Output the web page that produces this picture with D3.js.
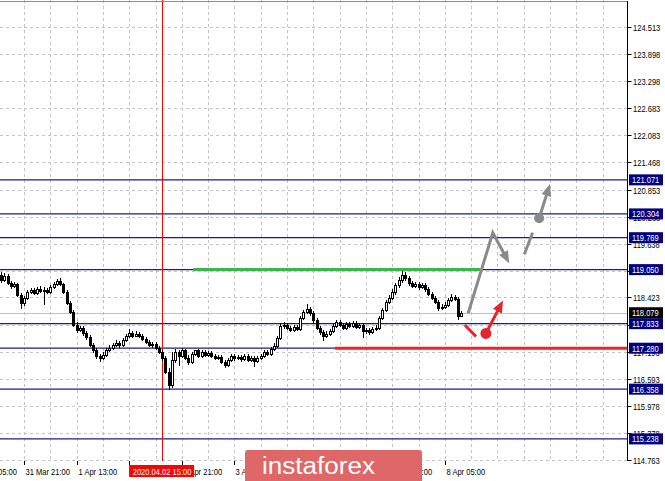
<!DOCTYPE html>
<html><head><meta charset="utf-8">
<script src="https://cdn.jsdelivr.net/npm/d3@7"></script>
<style>
html,body{margin:0;padding:0;background:#fff;overflow:hidden}
svg{display:block}
text{font-family:"Liberation Sans",Arial,sans-serif}
</style></head><body>
<svg id="c" width="665" height="481"></svg>
<script>
// ---------- DATA ----------
const priceTicks = [124.513,123.898,123.298,122.683,122.083,121.468,120.853,120.238,119.638,119.023,118.423,117.808,117.193,116.593,115.978,115.378,114.763];
const timeLabels = ["31 Mar 05:00","31 Mar 21:00","1 Apr 13:00","2 Apr 05:00","2 Apr 21:00","3 Apr 13:00","6 Apr 05:00","6 Apr 21:00","7 Apr 13:00","8 Apr 05:00"];
const timeLabelBars = [-16,0,16,32,48,64,80,96,112,128];
const firstBar = -7;   // bar index of first candle (0 = 31 Mar 21:00, H1)
const candles = [ // [open, high, low, close]
[118.929,118.996,118.749,118.816],[118.816,118.974,118.771,118.906],[118.906,118.951,118.704,118.749],[118.749,118.794,118.614,118.681],
[118.681,118.771,118.636,118.726],[118.726,118.749,118.434,118.479],[118.479,118.524,118.163,118.298],[118.298,118.456,118.231,118.411],
[118.411,118.591,118.366,118.546],[118.546,118.636,118.501,118.591],[118.591,118.636,118.479,118.524],[118.524,118.659,118.479,118.614],
[118.614,118.681,118.524,118.569],[118.569,118.659,118.253,118.591],[118.591,118.636,118.501,118.546],[118.546,118.704,118.501,118.659],
[118.659,118.771,118.614,118.726],[118.726,118.839,118.681,118.794],[118.794,118.861,118.681,118.726],[118.726,118.749,118.501,118.546],
[118.546,118.591,118.253,118.298],[118.298,118.343,118.051,118.096],[118.096,118.141,117.758,117.803],[117.803,117.871,117.623,117.691],
[117.691,117.781,117.646,117.736],[117.736,117.781,117.556,117.623],[117.623,117.668,117.466,117.533],[117.533,117.578,117.308,117.353],
[117.353,117.398,117.173,117.241],[117.241,117.286,117.038,117.106],[117.106,117.151,116.971,117.061],[117.061,117.196,117.016,117.128],
[117.128,117.286,117.083,117.241],[117.241,117.353,117.196,117.286],[117.286,117.398,117.241,117.353],[117.353,117.466,117.308,117.398],
[117.398,117.443,117.286,117.353],[117.353,117.511,117.308,117.466],[117.466,117.601,117.421,117.556],[117.556,117.713,117.511,117.623],
[117.623,117.668,117.511,117.556],[117.556,117.668,117.533,117.601],[117.601,117.646,117.511,117.556],[117.556,117.601,117.443,117.488],
[117.488,117.533,117.376,117.421],[117.421,117.466,117.308,117.353],[117.353,117.421,117.286,117.376],[117.376,117.421,117.241,117.286],
[117.286,117.331,117.151,117.196],[117.196,117.241,116.993,117.061],[117.061,117.106,116.701,116.746],[116.746,116.836,116.341,116.453],
[116.453,117.196,116.386,117.016],[117.016,117.263,116.948,117.196],[117.196,117.241,116.881,117.106],[117.106,117.286,117.061,117.241],
[117.241,117.263,117.016,117.061],[117.061,117.128,116.903,116.971],[116.971,117.196,116.926,117.151],[117.151,117.241,117.106,117.241],
[117.241,117.263,117.061,117.106],[117.106,117.241,117.061,117.196],[117.196,117.241,117.083,117.128],[117.128,117.218,117.083,117.173],
[117.173,117.218,117.061,117.106],[117.106,117.151,117.016,117.061],[117.061,117.128,117.016,117.083],[117.083,117.128,116.926,116.971],
[116.971,117.016,116.836,116.903],[116.903,117.061,116.858,117.016],[117.016,117.151,116.971,117.106],[117.106,117.151,116.993,117.061],
[117.061,117.128,117.016,117.083],[117.083,117.128,116.971,117.038],[117.038,117.151,116.993,117.106],[117.106,117.151,116.971,117.016],
[117.016,117.106,116.971,117.061],[117.061,117.106,116.858,116.993],[116.993,117.106,116.948,117.061],[117.061,117.151,117.016,117.106],
[117.106,117.241,117.061,117.196],[117.196,117.241,117.106,117.151],[117.151,117.308,117.106,117.263],[117.263,117.398,117.218,117.331],
[117.331,117.556,117.286,117.511],[117.511,117.848,117.466,117.781],[117.781,117.871,117.713,117.803],[117.803,117.848,117.691,117.736],
[117.736,117.781,117.646,117.691],[117.691,117.803,117.646,117.758],[117.758,117.803,117.668,117.713],[117.713,118.006,117.668,117.961],
[117.961,118.141,117.916,118.096],[118.096,118.276,118.051,118.163],[118.163,118.208,118.006,118.073],[118.073,118.118,117.848,117.916],
[117.916,117.961,117.691,117.736],[117.736,117.781,117.578,117.646],[117.646,117.691,117.443,117.556],[117.556,117.668,117.511,117.601],
[117.601,117.713,117.556,117.668],[117.668,117.826,117.623,117.781],[117.781,117.916,117.736,117.871],[117.871,117.916,117.758,117.803],
[117.803,117.848,117.691,117.736],[117.736,117.871,117.691,117.826],[117.826,117.871,117.736,117.781],[117.781,117.893,117.736,117.848],
[117.848,117.893,117.713,117.758],[117.758,117.848,117.713,117.803],[117.803,117.848,117.511,117.668],[117.668,117.736,117.601,117.691],
[117.691,117.736,117.578,117.646],[117.646,117.758,117.601,117.713],[117.713,117.803,117.668,117.736],[117.736,118.006,117.691,117.961],
[117.961,118.186,117.916,118.141],[118.141,118.366,118.096,118.321],[118.321,118.479,118.276,118.411],[118.411,118.614,118.366,118.546],
[118.546,118.749,118.479,118.704],[118.704,118.884,118.636,118.816],[118.816,119.019,118.749,118.929],[118.929,118.996,118.794,118.861],
[118.861,118.906,118.681,118.749],[118.749,118.794,118.636,118.681],[118.681,118.771,118.636,118.726],[118.726,118.771,118.591,118.659],
[118.659,118.749,118.614,118.704],[118.704,118.749,118.546,118.614],[118.614,118.659,118.456,118.501],[118.501,118.546,118.366,118.411],
[118.411,118.456,118.276,118.321],[118.321,118.366,118.118,118.186],[118.186,118.276,118.141,118.208],[118.208,118.321,118.163,118.253],
[118.253,118.411,118.208,118.366],[118.366,118.501,118.321,118.434],[118.434,118.479,118.343,118.389],[118.389,118.434,117.916,118.006],
[118.006,118.118,117.983,118.079]
];
const levels = [121.071,120.304,119.769,119.050,117.833,117.280,116.358,115.238];
const lastPrice = 118.079;
const eventBar = 42;
const eventLabel = "2020.04.02 15:00";
const resistance = [51.5, 138.7, 119.050];   // from bar, to bar, price
const support = [94.6, 117.280];             // from bar, price
const grayPath = [[135.1,118.066],[142.6,119.881],[147.6,119.192]];
const grayDash = [[152.2,119.395],[154.7,119.881]];
const grayArrow = [[156.7,120.206],[160.0,120.978]];
const redDash = [[134.1,117.803],[137.5,117.544]];
const redArrow = [[140.5,117.612],[145.7,118.355]];
const logoText = "instaforex";

// ---------- LAYOUT ----------
const W = 665, H = 481, plotR = 627.5, plotB = 461;
const x = d3.scaleLinear().domain([0,16]).range([24, 76.6]);
const y = d3.scaleLinear().domain([114.763,124.513]).range([460, 27]);
const svg = d3.select("#c");
const SX = 0.84;
function label(g, px, py, s, anchor, fill, size){
  return g.append("text").attr("transform",`translate(${px},${py}) scale(${SX},1)`)
    .attr("text-anchor",anchor||"start").attr("fill",fill||"#000")
    .attr("font-size",size||9).text(s);
}

svg.append("rect").attr("width",W).attr("height",H).attr("fill","#fff");
const clip = svg.append("defs").append("clipPath").attr("id","pc");
clip.append("rect").attr("x",0).attr("y",0).attr("width",plotR).attr("height",plotB);
const plot = svg.append("g").attr("clip-path","url(#pc)");

// grid
const gridBars = d3.range(0, 200, 8).filter(b => x(b) < plotR);
plot.selectAll(".vg").data(gridBars).enter().append("line")
  .attr("x1",d=>Math.round(x(d))+0.5).attr("x2",d=>Math.round(x(d))+0.5)
  .attr("y1",0).attr("y2",plotB).attr("stroke","#c4c4c4").attr("stroke-dasharray","3,3");
plot.selectAll(".hg").data(priceTicks).enter().append("line")
  .attr("x1",0).attr("x2",plotR).attr("y1",d=>Math.round(y(d))+0.5).attr("y2",d=>Math.round(y(d))+0.5)
  .attr("stroke","#c4c4c4").attr("stroke-dasharray","3,3");

// current price line
plot.append("line").attr("x1",0).attr("x2",plotR).attr("y1",Math.round(y(lastPrice))+0.5).attr("y2",Math.round(y(lastPrice))+0.5)
  .attr("stroke","#c0c0c0");

// levels
plot.selectAll(".lv").data(levels).enter().append("line")
  .attr("x1",0).attr("x2",plotR).attr("y1",d=>y(d)).attr("y2",d=>y(d))
  .attr("stroke","#1b1b8f").attr("stroke-width",1.2);

// red vertical event line
plot.append("line").attr("x1",Math.round(x(eventBar))+0.5).attr("x2",Math.round(x(eventBar))+0.5)
  .attr("y1",0).attr("y2",plotB).attr("stroke","#ff0000");

// resistance / support
plot.append("line").attr("x1",x(resistance[0])).attr("x2",x(resistance[1]))
  .attr("y1",y(resistance[2])).attr("y2",y(resistance[2])).attr("stroke","#3cb54a").attr("stroke-width",3);
plot.append("line").attr("x1",x(support[0])).attr("x2",plotR)
  .attr("y1",y(support[1])).attr("y2",y(support[1])).attr("stroke","#ed2428").attr("stroke-width",3);

// candles
const cg = plot.append("g");
candles.forEach((c,i)=>{
  const cx = Math.round(x(firstBar+i));
  const [o,h,l,cl] = c;
  cg.append("line").attr("x1",cx+0.5).attr("x2",cx+0.5).attr("y1",y(h)).attr("y2",y(l)).attr("stroke","#000");
  const top = Math.round(y(Math.max(o,cl))), bot = Math.round(y(Math.min(o,cl)));
  const bull = cl >= o;
  cg.append("rect").attr("x",cx-0.5).attr("y",top+0.5).attr("width",2).attr("height",Math.max(bot-top,0.5))
    .attr("fill",bull?"#fff":"#000").attr("stroke","#000").attr("stroke-width",1);
});

// forecast drawings
function pts(a){ return a.map(p=>[x(p[0]),y(p[1])]); }
function arrowHead(g, from, tip, len, w, col){
  const a = Math.atan2(tip[1]-from[1], tip[0]-from[0]);
  const bx = tip[0]-len*Math.cos(a), by = tip[1]-len*Math.sin(a);
  const nx = -Math.sin(a)*w/2, ny = Math.cos(a)*w/2;
  g.append("polygon").attr("points",`${tip[0]},${tip[1]} ${bx+nx},${by+ny} ${bx-nx},${by-ny}`).attr("fill",col);
  return [bx+Math.cos(a)*2, by+Math.sin(a)*2];
}
const fg = plot.append("g");
const GRAY = "#8a8a8a", RED = "#e6252a";
{
  const p = pts(grayPath);
  const end = arrowHead(fg, p[p.length-2], p[p.length-1], 12, 10, GRAY);
  const q = p.slice(0,-1).concat([end]);
  fg.append("path").attr("d",d3.line()(q)).attr("fill","none").attr("stroke",GRAY).attr("stroke-width",3).attr("stroke-linejoin","miter");
  const d = pts(grayDash);
  fg.append("path").attr("d",d3.line()(d)).attr("stroke",GRAY).attr("stroke-width",3);
  const g2 = pts(grayArrow);
  const e2 = arrowHead(fg, g2[0], g2[1], 12, 10, GRAY);
  fg.append("path").attr("d",d3.line()([g2[0],e2])).attr("stroke",GRAY).attr("stroke-width",3);
  fg.append("circle").attr("cx",g2[0][0]).attr("cy",g2[0][1]).attr("r",5).attr("fill",GRAY);
}
{
  const d = pts(redDash);
  fg.append("path").attr("d",d3.line()(d)).attr("stroke",RED).attr("stroke-width",3);
  const r2 = pts(redArrow);
  const e2 = arrowHead(fg, r2[0], r2[1], 12, 10, RED);
  fg.append("path").attr("d",d3.line()([r2[0],e2])).attr("stroke",RED).attr("stroke-width",3);
  fg.append("circle").attr("cx",r2[0][0]).attr("cy",r2[0][1]).attr("r",5.5).attr("fill",RED);
}

// frame
svg.append("line").attr("x1",0).attr("x2",plotR).attr("y1",1.5).attr("y2",1.5).attr("stroke","#8c8c8c");
svg.append("line").attr("x1",plotR).attr("x2",plotR).attr("y1",1).attr("y2",plotB).attr("stroke","#000");

// right axis
const ax = svg.append("g");
priceTicks.forEach(p=>{
  const py = Math.round(y(p))+0.5;
  ax.append("line").attr("x1",plotR).attr("x2",plotR+4).attr("y1",py).attr("y2",py).attr("stroke","#000");
  label(ax, 633, py+3.2, p.toFixed(3));
});
// level boxes
levels.forEach(p=>{
  const py = y(p);
  ax.append("rect").attr("x",629).attr("y",py-5.5).attr("width",34).attr("height",11).attr("fill","#000080");
  label(ax, 632, py+3.4, p.toFixed(3), "start", "#fff");
});
{
  const py = y(lastPrice);
  ax.append("rect").attr("x",629).attr("y",py-5.5).attr("width",34).attr("height",11).attr("fill","#000");
  label(ax, 632, py+3.4, lastPrice.toFixed(3), "start", "#fff");
}

// bottom axis
const bx = svg.append("g");
timeLabelBars.forEach((b,i)=>{
  const px = Math.round(x(b))+0.5;
  bx.append("line").attr("x1",px).attr("x2",px).attr("y1",plotB).attr("y2",plotB+4).attr("stroke","#000");
  label(bx, px+1, 475, timeLabels[i]);
});
{
  const px = x(eventBar);
  bx.append("rect").attr("x",px-33).attr("y",465).attr("width",65).attr("height",12).attr("fill","#ff0000");
  label(bx, px, 475, eventLabel, "middle", "#fff");
}

// logo
const lg = svg.append("g");
lg.append("rect").attr("x",245).attr("y",450).attr("width",177).attr("height",40).attr("rx",3).attr("fill","#e06767");
lg.append("text").attr("x",262).attr("y",474).attr("text-anchor","start").attr("fill","#fff")
  .attr("font-family","'Open Sans',sans-serif").attr("font-size",23).attr("textLength",113).attr("lengthAdjust","spacingAndGlyphs").text(logoText);
</script>
</body></html>
